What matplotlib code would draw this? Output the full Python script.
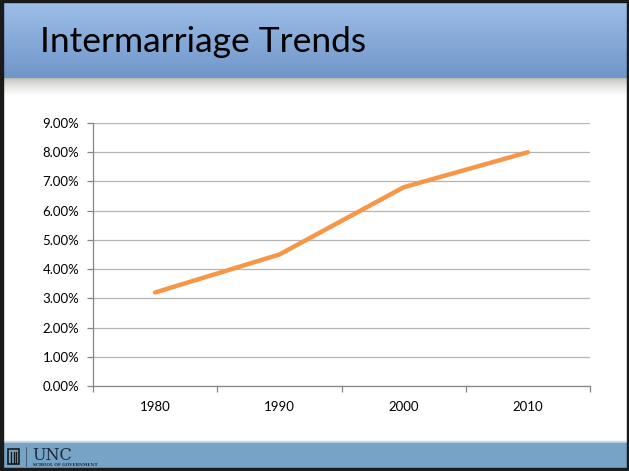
import numpy as np
import matplotlib
matplotlib.use("Agg")
import matplotlib.pyplot as plt
from matplotlib.ticker import PercentFormatter, FixedLocator, NullFormatter

# chart data
years = ["1980", "1990", "2000", "2010"]
rates = [3.2, 4.5, 6.8, 8.0]
y_ticks = [0, 1, 2, 3, 4, 5, 6, 7, 8, 9]

W, H = 629, 471
fig = plt.figure(figsize=(W / 100, H / 100), dpi=100)
fig.patch.set_facecolor("white")

# slide background in pixel coords
bg = fig.add_axes([0, 0, 1, 1])
bg.set_xlim(0, W)
bg.set_ylim(H, 0)
bg.axis("off")

# title bar gradient
grad = np.linspace(0, 1, 100).reshape(-1, 1)
top_c = np.array([0.62, 0.75, 0.91])
bot_c = np.array([0.44, 0.59, 0.79])
title_img = top_c + (bot_c - top_c) * grad[:, :, None]
bg.imshow(title_img, extent=[0, W, 78, 0], aspect="auto", zorder=1)
# shadow under the title bar
sh = np.linspace(0, 1, 40).reshape(-1, 1)
shadow = np.array([0.72, 0.72, 0.70]) + (1 - np.array([0.72, 0.72, 0.70])) * sh[:, :, None] ** 0.6
bg.imshow(shadow, extent=[0, W, 96, 78], aspect="auto", zorder=1)

# footer bar
bg.add_patch(plt.Rectangle((0, 441), W, 2, color="#c9d8e6", zorder=1))
bg.add_patch(plt.Rectangle((0, 443), W, 26, color="#77a3c6", zorder=1))
bg.add_patch(plt.Rectangle((0, 468), W, 3, color="#1a1a1a", zorder=2))
# slide frame
bg.add_patch(plt.Rectangle((0, 0), 3, H, color="#1a1a1a", zorder=2))
bg.add_patch(plt.Rectangle((W - 2, 0), 2, H, color="#1a1a1a", zorder=2))
bg.add_patch(plt.Rectangle((0, 0), W, 2, color="#1a1a1a", zorder=2))

# UNC logo
bg.add_patch(plt.Rectangle((8, 449), 11, 15, fill=False, ec="#1a1a1a", lw=1.2, zorder=3))
for xx in (11, 13.5, 16):
    bg.plot([xx, xx], [452, 463], color="#1a1a1a", lw=1, zorder=3)
bg.plot([26, 26], [447, 466], color="#3d4f63", lw=0.6, zorder=3)
bg.text(32, 460, "UNC", family="DejaVu Serif", fontsize=11.5, color="#1a2a3a", zorder=3)
bg.text(33, 466, "SCHOOL OF GOVERNMENT", family="DejaVu Serif", fontsize=3,
        weight="bold", color="#1a2a3a", zorder=3)

bg.text(40, 42, "Intermarriage Trends", family="Lato", fontsize=25.5, color="black",
        va="center", ha="left", zorder=3)

# chart axes
left, right, top, bottom = 93, 590, 123, 386
ax = fig.add_axes([left / W, (H - bottom) / H, (right - left) / W, (bottom - top) / H])
ax.set_facecolor("none")
x = np.arange(len(years))
ax.plot(x, rates, color="#f79646", lw=3.2, solid_capstyle="round", solid_joinstyle="round", zorder=3)

ax.set_xlim(-0.5, len(years) - 0.5)
ax.set_ylim(0, 9)
ax.set_yticks(y_ticks)
ax.yaxis.set_major_formatter(PercentFormatter(decimals=2))
ax.grid(axis="y", color="#b4b4b4", lw=0.9)
ax.set_axisbelow(True)

ax.xaxis.set_major_locator(FixedLocator(np.arange(-0.5, len(years), 1.0)))
ax.xaxis.set_major_formatter(NullFormatter())
for i, yr in enumerate(years):
    ax.text(i, -0.5, yr, ha="center", va="top", family="Lato", fontsize=9.5,
            color="black", transform=ax.transData)

for s in ("top", "right"):
    ax.spines[s].set_visible(False)
for s in ("left", "bottom"):
    ax.spines[s].set_color("#868686")
    ax.spines[s].set_linewidth(0.9)
ax.tick_params(axis="both", colors="#868686", length=4, width=0.9, direction="out")
ax.tick_params(axis="y", labelcolor="black", labelsize=9.5, pad=6)
for lab in ax.get_yticklabels():
    lab.set_family("Lato")

fig.savefig("out.png", dpi=100)
